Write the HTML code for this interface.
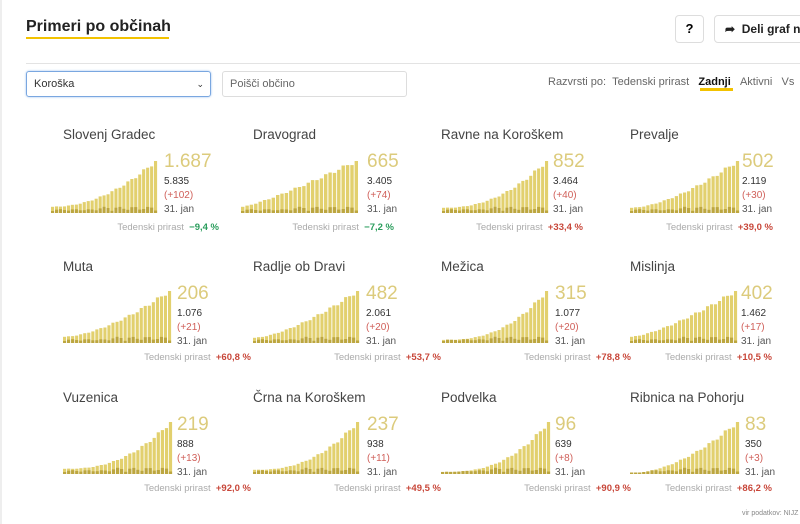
<!DOCTYPE html>
<html><head><meta charset="utf-8"><style>
body{margin:0;width:800px;height:524px;background:#fff;font-family:"Liberation Sans",sans-serif;position:relative;overflow:hidden}
.a{position:absolute;white-space:nowrap}
.nm{font-size:13.5px;color:#444}
.big{font-size:19px;color:#dccb7c}
.s{font-size:10px;color:#333}
.p{font-size:9.5px;color:#aaa;text-align:right}
.p b{font-weight:bold}
</style></head><body>
<div class="a" style="left:0;top:0;width:2px;height:524px;background:#eee"></div>
<div class="a" style="left:26px;top:18px;font-size:16px;font-weight:bold;color:#222">Primeri po občinah</div>
<div class="a" style="left:26px;top:37px;width:143px;height:2px;background:#f2c200"></div>
<div class="a" style="left:675px;top:15px;width:27px;height:26px;border:1px solid #ddd;border-radius:4px;text-align:center;line-height:26px;font-size:13px;font-weight:bold">?</div>
<div class="a" style="left:714px;top:15px;width:100px;height:26px;border:1px solid #ddd;border-radius:4px;line-height:26px;font-size:12px;font-weight:bold;color:#222;padding-left:10px">➦ &nbsp;Deli graf na</div>
<div class="a" style="left:26px;top:63px;width:774px;height:1px;background:#e3e3e3"></div>
<div class="a" style="left:26px;top:71px;border:1px solid #7aa7e0;border-radius:3px;box-shadow:0 0 2px #9bc0f0;font-size:11px;line-height:24px;color:#333;padding-left:7px;box-sizing:border-box;width:185px;height:26px">Koroška<span style="position:absolute;right:6px;font-size:9px">⌄</span></div>
<div class="a" style="left:222px;top:71px;width:185px;height:26px;box-sizing:border-box;border:1px solid #ddd;border-radius:3px;font-size:11px;line-height:24px;color:#666;padding-left:7px">Poišči občino</div>
<div class="a" style="left:548px;top:76px;font-size:11px;color:#666">Razvrsti po: &nbsp;Tedenski prirast &nbsp;&nbsp;<b style="color:#111">Zadnji</b> &nbsp;&nbsp;Aktivni &nbsp;&nbsp;Vs</div>
<div class="a" style="left:700px;top:88px;width:33px;height:3px;background:#f2c200"></div>
<div class="a" style="left:742px;top:510px;font-size:7px;color:#888">vir podatkov: NIJZ</div>
<div id="c"></div>
<script>
var cells=[
["Slovenj Gradec",63,51,158,164,"1.687","5.835","(+102)","−9,4 %",1,219,0,0.12,2.0],
["Dravograd",253,241,359,367,"665","3.405","(+74)","−7,2 %",1,394,0,0.12,1.2],
["Ravne na Koroškem",441,442,549,553,"852","3.464","(+40)","+33,4 %",0,583,0,0.1,2.2],
["Prevalje",630,630,740,742,"502","2.119","(+30)","+39,0 %",0,773,0,0.1,1.6],
["Muta",63,63,172,177,"206","1.076","(+21)","+60,8 %",0,251,1,0.12,1.6],
["Radlje ob Dravi",253,253,360,366,"482","2.061","(+20)","+53,7 %",0,441,1,0.1,1.5],
["Mežica",441,442,549,555,"315","1.077","(+20)","+78,8 %",0,631,1,0.06,2.5],
["Mislinja",630,630,738,741,"402","1.462","(+17)","+10,5 %",0,772,1,0.12,1.4],
["Vuzenica",63,63,173,177,"219","888","(+13)","+92,0 %",0,251,2,0.1,2.4],
["Črna na Koroškem",253,253,360,367,"237","938","(+11)","+49,5 %",0,441,2,0.08,2.4],
["Podvelka",441,441,551,555,"96","639","(+8)","+90,9 %",0,631,2,0.04,2.6],
["Ribnica na Pohorju",630,630,740,745,"83","350","(+3)","+86,2 %",0,772,2,0.02,1.8]];
var rows=[[136,213,152],[268,343,284],[399,474,415]];
var h='';
cells.forEach(function(c,k){
 var r=rows[c[11]],ny=r[0]-9,bot=r[1],top=bot-53;
 h+='<div class="a nm" style="left:'+c[1]+'px;top:'+ny+'px">'+c[0]+'</div>';
 var w=c[3]-c[2],n=27,per=w/n,bw=per*0.78,svg='';
 for(var i=0;i<n;i++){var t=i/(n-1);var v=c[12]+(1-c[12])*Math.pow(t,c[13]);v=Math.min(1,v*(1+0.04*Math.sin(i*1.7)));
  var bh=Math.max(1.5,v*52);var x=i*per;
  svg+='<rect x="'+x.toFixed(1)+'" y="'+(53-bh).toFixed(1)+'" width="'+bw.toFixed(1)+'" height="'+bh.toFixed(1)+'" fill="#e2d06e"/>';
  var dh=Math.min(bh,2+3*Math.abs(Math.sin(i*2.3))*(t>0.4?1.4:0.6));
  svg+='<rect x="'+x.toFixed(1)+'" y="'+(53-dh).toFixed(1)+'" width="'+bw.toFixed(1)+'" height="'+dh.toFixed(1)+'" fill="#bca640"/>';}
 h+='<svg class="a" style="left:'+c[2]+'px;top:'+top+'px" width="'+w+'" height="53">'+svg+'</svg>';
 h+='<div class="a big" style="left:'+c[4]+'px;top:'+(r[2]-1)+'px">'+c[5]+'</div>';
 h+='<div class="a s" style="left:'+c[4]+'px;top:'+(r[2]+24)+'px">'+c[6]+'</div>';
 h+='<div class="a s" style="left:'+c[4]+'px;top:'+(r[2]+38)+'px;color:#d0605a">'+c[7]+'</div>';
 h+='<div class="a s" style="left:'+c[4]+'px;top:'+(r[2]+52)+'px;color:#555">31. jan</div>';
 h+='<div class="a p" style="right:'+(800-c[10])+'px;top:'+(bot+9)+'px">Tedenski prirast &nbsp;<b style="color:'+(c[9]?'#2a9d5c':'#c8473a')+'">'+c[8]+'</b></div>';
});
document.getElementById('c').innerHTML=h;
</script>
</body></html>
